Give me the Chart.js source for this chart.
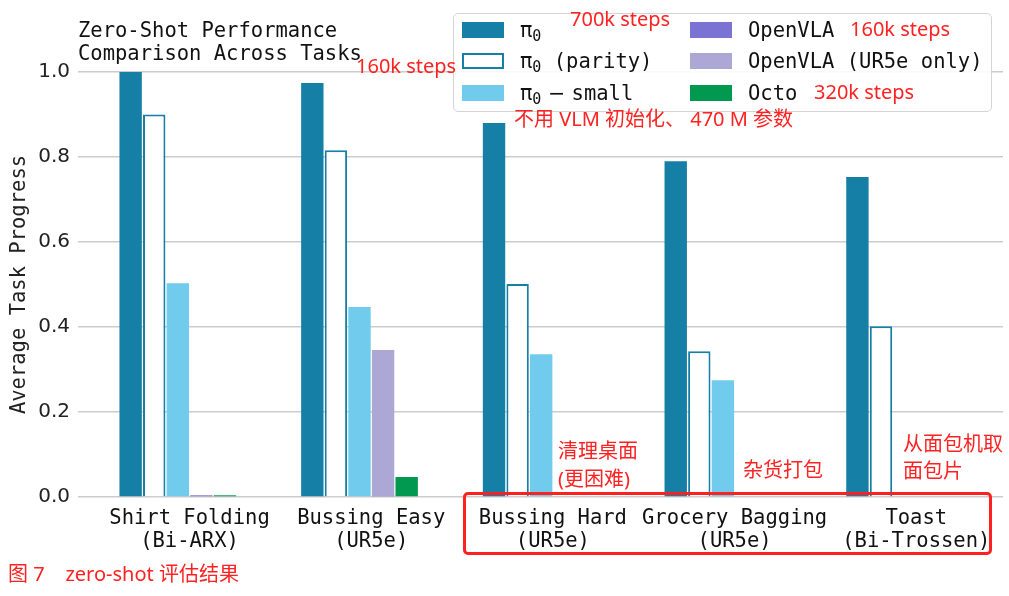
<!DOCTYPE html>
<html>
<head>
<meta charset="utf-8">
<script src="https://cdn.jsdelivr.net/npm/chart.js@4.4.1/dist/chart.umd.min.js"></script>
<style>
html,body{margin:0;padding:0;background:#fff;}
#wrap{position:relative;width:1009px;height:596px;overflow:hidden;background:#fff;}
#c{position:absolute;left:0;top:0;}
.ann{position:absolute;color:#ff2222;font-family:"Noto Sans","Noto Sans CJK SC",sans-serif;font-size:20px;line-height:20px;white-space:pre;}
#legend{position:absolute;left:453px;top:13px;width:537px;height:97px;border:1.5px solid #d4d4d4;border-radius:5px;background:rgba(255,255,255,0.88);}
.lt{position:absolute;font-family:"DejaVu Sans Mono",monospace;font-size:20.5px;line-height:22px;color:#111;white-space:pre;}
.lt sub{font-size:15px;vertical-align:-4px;line-height:0;}
.sw{position:absolute;width:42px;height:16px;box-sizing:border-box;}
#box{position:absolute;left:463px;top:492px;width:529px;height:63px;border:3px solid #ff2020;border-radius:5px;box-sizing:border-box;}
</style>
</head>
<body>
<div id="wrap">
  <canvas id="c" width="1009" height="596"></canvas>
  <div id="legend"></div>
  <div id="box"></div>
  <div class="ann" style="left:570px;top:9px;">700k steps</div>
  <div class="ann" style="left:356px;top:56px;">160k steps</div>
  <div class="ann" style="left:850px;top:19px;">160k steps</div>
  <div class="ann" style="left:814px;top:82px;">320k steps</div>
  <div class="ann" style="left:514px;top:109px;">不用 VLM 初始化、 470 M 参数</div>
  <div class="ann" style="left:558px;top:441px;">清理桌面</div>
  <div class="ann" style="left:558px;top:469px;">(更困难)</div>
  <div class="ann" style="left:743px;top:460px;">杂货打包</div>
  <div class="ann" style="left:903px;top:434px;">从面包机取</div>
  <div class="ann" style="left:903px;top:461px;">面包片</div>
  <div class="ann" style="left:8px;top:564px;">图 7    zero-shot 评估结果</div>
</div>
<script>
// ---- data ----
const categories = [
  ['Shirt Folding', '(Bi-ARX)'],
  ['Bussing Easy', '(UR5e)'],
  ['Bussing Hard', '(UR5e)'],
  ['Grocery Bagging', '(UR5e)'],
  ['Toast', '(Bi-Trossen)']
];
const seriesNames = ['π₀', 'π₀ (parity)', 'π₀ − small', 'OpenVLA', 'OpenVLA (UR5e only)', 'Octo'];
const pi0        = [1.000, 0.974, 0.880, 0.790, 0.753];
const pi0Parity  = [0.900, 0.816, 0.501, 0.343, 0.402];
const pi0Small   = [0.503, 0.447, 0.336, 0.275, 0];
const openVLA    = [0.004, 0.004, 0, 0, 0];
const openVLAUR5 = [0, 0.346, 0, 0, 0];
const octo       = [0.004, 0.047, 0, 0, 0];
const yTicks     = [0.0, 0.2, 0.4, 0.6, 0.8, 1.0];
const title      = ['Zero-Shot Performance', 'Comparison Across Tasks'];
const yTitle     = 'Average Task Progress';

const colors = {
  pi0: '#167fa6', small: '#70cbec', ovla: '#7b73d3', ovlaUR5: '#aca7d5', octo: '#00994f'
};

const toPts = arr => arr.map((v, i) => ({x: i, y: v}));

const datasets = [
  {label: seriesNames[0], data: toPts(pi0), backgroundColor: colors.pi0, stack: 'a', borderWidth: 0},
  {label: seriesNames[1], data: toPts(pi0Parity), backgroundColor: '#ffffff', borderColor: colors.pi0, borderWidth: 2, stack: 'b'},
  {label: seriesNames[2], data: toPts(pi0Small), backgroundColor: colors.small, stack: 'c', borderWidth: 0},
  {label: seriesNames[4], data: toPts(openVLAUR5), backgroundColor: colors.ovlaUR5, stack: 'd', borderWidth: 0},
  {label: seriesNames[3], data: toPts(openVLA), backgroundColor: colors.ovla, stack: 'd', borderWidth: 0},
  {label: seriesNames[5], data: toPts(octo), backgroundColor: colors.octo, stack: 'e', borderWidth: 0}
];

const tickOffset = 0.0644;
const mono = 'DejaVu Sans Mono';

new Chart(document.getElementById('c'), {
  type: 'bar',
  data: {datasets},
  options: {
    responsive: false,
    devicePixelRatio: 1,
    animation: false,
    categoryPercentage: 0.649,
    barPercentage: 0.949,
    layout: {padding: {left: 0, right: 6, top: 0, bottom: 0}},
    plugins: {
      legend: {display: false},
      tooltip: {enabled: false},
      title: {
        display: true, text: title, align: 'start', fullSize: false,
        color: '#111',
        font: {family: mono, size: 20.5, weight: 'normal', lineHeight: 1.13},
        padding: {top: 20, bottom: 5.7}
      }
    },
    scales: {
      x: {
        type: 'linear', offset: false, bounds: 'data',
        min: -0.5493, max: 4.5416,
        grid: {display: false, drawTicks: false},
        border: {display: false},
        afterBuildTicks: (scale) => {
          scale.ticks = categories.map((c, i) => ({value: i + tickOffset}));
        },
        afterFit: (scale) => { scale.height = 99; },
        ticks: {
          autoSkip: false, maxRotation: 0, minRotation: 0, padding: 10,
          color: '#111',
          font: {family: mono, size: 20.5, lineHeight: 1.13},
          callback: (v, i) => categories[i]
        }
      },
      y: {
        min: 0, max: 1.0, stacked: false,
        grid: {color: '#cccccc', lineWidth: 1.5, drawTicks: false},
        border: {display: false},
        afterBuildTicks: (scale) => { scale.ticks = yTicks.map(v => ({value: v})); },
        afterFit: (scale) => { scale.width = 78; },
        ticks: {
          padding: 8, color: '#222',
          font: {family: 'DejaVu Sans', size: 20},
          callback: (v) => Number(v).toFixed(1)
        },
        title: {
          display: true, text: yTitle, color: '#222',
          font: {family: mono, size: 20.5},
          padding: {top: 7, bottom: 0}
        }
      }
    }
  }
});

// ---- legend (column-major, 2 columns x 3 rows) ----
const legendItems = [
  {name: seriesNames[0], fill: colors.pi0, border: null},
  {name: seriesNames[1], fill: '#ffffff', border: colors.pi0},
  {name: seriesNames[2], fill: colors.small, border: null},
  {name: seriesNames[3], fill: colors.ovla, border: null},
  {name: seriesNames[4], fill: colors.ovlaUR5, border: null},
  {name: seriesNames[5], fill: colors.octo, border: null}
];
const lg = document.getElementById('legend');
const rowCenters = [16, 47, 79];
const colSw = [8, 236], colTx = [66, 294];
legendItems.forEach((it, k) => {
  const col = Math.floor(k / 3), row = k % 3;
  const sw = document.createElement('div');
  sw.className = 'sw';
  sw.style.left = colSw[col] + 'px';
  sw.style.top = (rowCenters[row] - 8) + 'px';
  sw.style.background = it.fill;
  if (it.border) sw.style.border = '2px solid ' + it.border;
  lg.appendChild(sw);
  const tx = document.createElement('div');
  tx.className = 'lt';
  tx.style.left = colTx[col] + 'px';
  tx.style.top = (rowCenters[row] - 11) + 'px';
  tx.innerHTML = it.name.replace('π₀', 'π<sub>0</sub>').replace(' − ', '<span style="font-family:DejaVu Sans"> − </span>');
  lg.appendChild(tx);
});
</script>
</body>
</html>
